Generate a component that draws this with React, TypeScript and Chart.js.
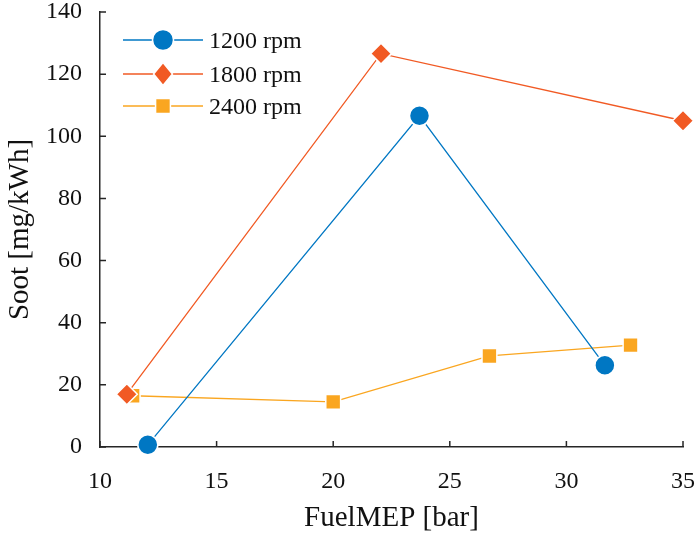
import React, { useEffect, useRef } from "react";
import { Chart, registerables } from "chart.js";

Chart.register(...registerables);

const seriesNames = ["1200 rpm", "1800 rpm", "2400 rpm"];
const colors = ["#0077C3", "#F15A24", "#FAA620"];
const markers = ["circle", "rectRot", "rect"];

const rpm1200X = [12.05, 23.7, 31.65];
const rpm1200Y = [0.7, 106.6, 26.3];
const rpm1800X = [11.15, 22.05, 35.0];
const rpm1800Y = [17.0, 126.6, 105.0];
const rpm2400X = [11.4, 20.0, 26.7, 32.75];
const rpm2400Y = [16.5, 14.5, 29.3, 32.8];

const xTicks = [10, 15, 20, 25, 30, 35];
const yTicks = [0, 20, 40, 60, 80, 100, 120, 140];

const FONT = "'Liberation Serif', 'DejaVu Serif', serif";
const AXIS_COLOR = "#262626";

function toPoints(xs: number[], ys: number[]) {
  return xs.map((x, i) => ({ x, y: ys[i] }));
}

function drawMarker(ctx: CanvasRenderingContext2D, style: string, x: number, y: number, r: number, color: string) {
  ctx.save();
  ctx.fillStyle = color;
  ctx.strokeStyle = "#ffffff";
  ctx.lineWidth = 1.5;
  ctx.beginPath();
  if (style === "circle") {
    ctx.arc(x, y, r, 0, Math.PI * 2);
  } else if (style === "rectRot") {
    ctx.moveTo(x, y - r * 1.1);
    ctx.lineTo(x + r * 0.9, y);
    ctx.lineTo(x, y + r * 1.1);
    ctx.lineTo(x - r * 0.9, y);
    ctx.closePath();
  } else {
    const s = r * Math.SQRT1_2;
    ctx.rect(x - s, y - s, 2 * s, 2 * s);
  }
  ctx.fill();
  ctx.stroke();
  ctx.restore();
}

const axesPlugin = {
  id: "inwardTicks",
  afterDraw(chart: any) {
    const { ctx, chartArea, scales } = chart;
    ctx.save();
    ctx.strokeStyle = AXIS_COLOR;
    ctx.lineWidth = 1.5;
    ctx.beginPath();
    for (const v of xTicks) {
      const px = scales.x.getPixelForValue(v);
      ctx.moveTo(px, chartArea.bottom);
      ctx.lineTo(px, chartArea.bottom - 6);
    }
    for (const v of yTicks) {
      const py = scales.y.getPixelForValue(v);
      ctx.moveTo(chartArea.left, py);
      ctx.lineTo(chartArea.left + 6, py);
    }
    ctx.stroke();
    ctx.restore();
  },
};

const legendPlugin = {
  id: "lineLegend",
  afterDatasetsDraw(chart: any) {
    const { ctx, chartArea } = chart;
    const x0 = chartArea.left + 23;
    const x1 = chartArea.left + 103;
    const rows = [40, 74, 106];
    ctx.save();
    seriesNames.forEach((name, i) => {
      const y = rows[i];
      ctx.strokeStyle = colors[i];
      ctx.lineWidth = 1.3;
      ctx.beginPath();
      ctx.moveTo(x0, y);
      ctx.lineTo(x1, y);
      ctx.stroke();
      drawMarker(ctx, markers[i], (x0 + x1) / 2, y, 10.5, colors[i]);
      ctx.fillStyle = "#111111";
      ctx.font = `24px ${FONT}`;
      ctx.textBaseline = "middle";
      ctx.textAlign = "left";
      ctx.fillText(name, x1 + 6, y + 2);
    });
    ctx.restore();
  },
};

export default function App() {
  const ref = useRef<HTMLCanvasElement | null>(null);

  useEffect(() => {
    document.body.style.margin = "0";
    const canvas = ref.current;
    if (!canvas) return;
    const xs = [rpm1200X, rpm1800X, rpm2400X];
    const ys = [rpm1200Y, rpm1800Y, rpm2400Y];
    const chart = new Chart(canvas, {
      type: "line",
      data: {
        datasets: seriesNames.map((name, i) => ({
          label: name,
          data: toPoints(xs[i], ys[i]),
          borderColor: colors[i],
          backgroundColor: colors[i],
          borderWidth: 1.3,
          pointStyle: markers[i] as any,
          pointRadius: i === 0 ? 10 : 10.5,
          pointBorderColor: "#ffffff",
          pointBorderWidth: 1.5,
          pointBackgroundColor: colors[i],
          tension: 0,
          fill: false,
          clip: false as any,
        })),
      },
      options: {
        responsive: false,
        animation: false,
        layout: { padding: { top: 10, right: 14, left: 0, bottom: 0 } },
        plugins: {
          legend: { display: false },
          tooltip: { enabled: false },
        },
        scales: {
          x: {
            type: "linear",
            min: 10,
            max: 35,
            afterBuildTicks: (s: any) => {
              s.ticks = xTicks.map((v) => ({ value: v }));
            },
            afterFit: (s: any) => {
              s.height = 89;
              s.paddingLeft = 0;
              s.paddingRight = 0;
            },
            grid: { display: false, drawTicks: false },
            border: { display: true, color: AXIS_COLOR, width: 1.5 },
            ticks: {
              padding: 20,
              color: "#111111",
              font: { family: FONT, size: 24 },
              maxRotation: 0,
            },
            title: {
              display: true,
              text: "FuelMEP [bar]",
              color: "#111111",
              font: { family: FONT, size: 29 },
              padding: { top: 0, bottom: 0 },
            },
          },
          y: {
            type: "linear",
            min: 0,
            max: 140,
            afterBuildTicks: (s: any) => {
              s.ticks = yTicks.map((v) => ({ value: v }));
            },
            afterFit: (s: any) => {
              s.width = 100;
              s.paddingTop = 0;
              s.paddingBottom = 0;
            },
            grid: { display: false, drawTicks: false },
            border: { display: true, color: AXIS_COLOR, width: 1.5 },
            ticks: {
              padding: 18,
              color: "#111111",
              font: { family: FONT, size: 24 },
            },
            title: {
              display: true,
              text: "Soot [mg/kWh]",
              color: "#111111",
              font: { family: FONT, size: 29 },
              padding: { top: 3, bottom: 0 },
            },
          },
        },
      },
      plugins: [axesPlugin, legendPlugin],
    });
    return () => chart.destroy();
  }, []);

  return <canvas ref={ref} width={697} height={536} style={{ display: "block" }} />;
}
